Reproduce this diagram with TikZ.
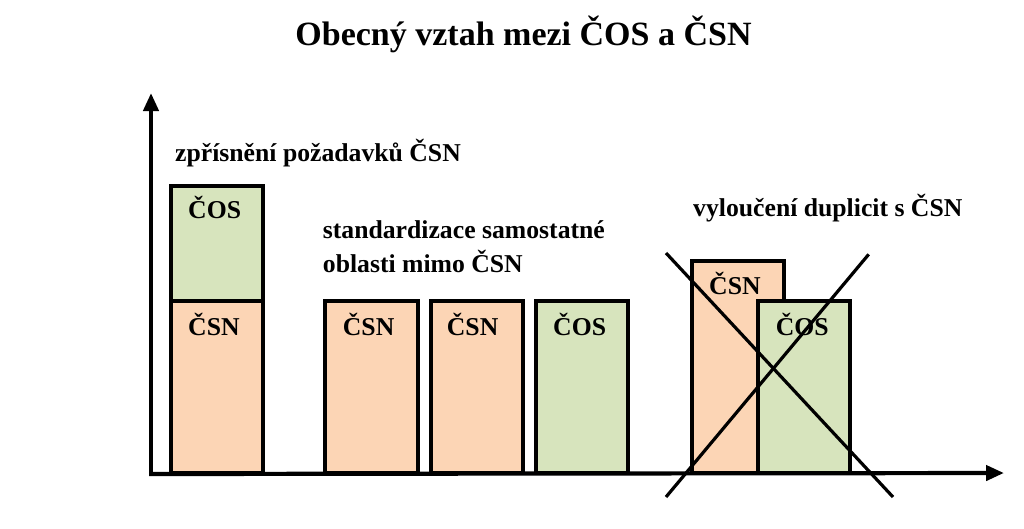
\documentclass[tikz,border=0pt]{standalone}
\usepackage{fontspec}
\setmainfont{Liberation Serif}
\usetikzlibrary{arrows.meta}
\definecolor{orangefill}{HTML}{FCD5B5}
\definecolor{greenfill}{HTML}{D7E4BD}
\begin{document}
\begin{tikzpicture}[x=1pt,y=-1pt,
  bar/.style={draw=black,line width=3.8pt},
  csnbar/.style={bar,fill=orangefill},
  cosbar/.style={bar,fill=greenfill},
  lbl/.style={anchor=base west,inner sep=0pt,font=\fontsize{25.7}{30}\selectfont\bfseries},
  ttl/.style={anchor=base,inner sep=0pt,font=\fontsize{34}{40}\selectfont\bfseries},
  axis/.style={line width=4.2pt,-{Triangle[length=18pt,width=15pt]}},
  crossline/.style={line width=3.2pt}]
\useasboundingbox[fill=white] (0,0) rectangle (1024,528);
% title
\node[ttl] (title) at (523.5,45) {Obecný vztah mezi ČOS a ČSN};
% bars
\draw[csnbar] (170.7,473) rectangle (263.3,300.7);
\draw[cosbar] (170.7,300.7) rectangle (263.3,186);
\draw[csnbar] (325,473) rectangle (417.7,300.7);
\draw[csnbar] (430.7,473) rectangle (522.7,300.7);
\draw[cosbar] (536,473) rectangle (628,300.7);
\draw[csnbar] (691.7,473) rectangle (784,260.7);
\draw[cosbar] (757.7,473) rectangle (850,301);
% axes
\coordinate (origin) at (151,474);
\coordinate (ytip) at (151,93);
\coordinate (xtip) at (1004,473);
\draw[axis] ([yshift=2pt]origin) -- (ytip);
\draw[axis] ([xshift=-2pt]origin) -- (xtip);
% labels
\node[lbl] (l1) at (175,161) {zpřísnění požadavků ČSN};
\node[lbl] (l2) at (322.7,238) {standardizace samostatné};
\node[lbl] (l3) at (322.7,272) {oblasti mimo ČSN};
\node[lbl] (l4) at (693,216) {vyloučení duplicit s ČSN};
\node[lbl] (b1a) at (188,218) {ČOS};
\node[lbl] (b1b) at (188,335) {ČSN};
\node[lbl] (b2) at (342.7,335) {ČSN};
\node[lbl] (b3) at (446.7,335) {ČSN};
\node[lbl] (b4) at (553,335) {ČOS};
\node[lbl] (b5) at (709,294) {ČSN};
\node[lbl] (b6) at (775.7,335) {ČOS};
% cross
\coordinate (c1a) at (666,253);
\coordinate (c1b) at (893,497);
\coordinate (c2a) at (666,497);
\coordinate (c2b) at (868.7,254.3);
\draw[crossline] (c1a) -- (c1b);
\draw[crossline] (c2a) -- (c2b);
\end{tikzpicture}
\end{document}
